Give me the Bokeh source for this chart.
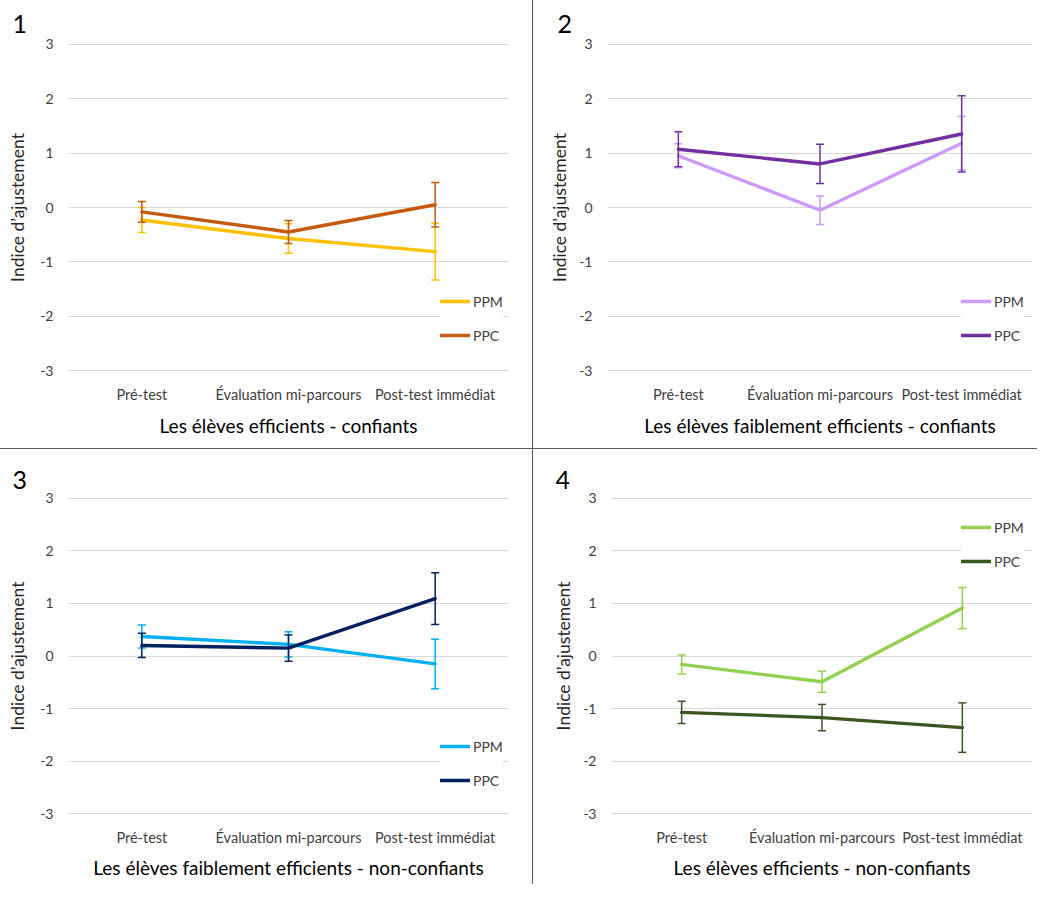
from bokeh.plotting import figure
from bokeh.models import (ColumnDataSource, Whisker, TeeHead, Legend, LegendItem,
                          Range1d, FactorRange, Title, Div, FixedTicker)
from bokeh.layouts import row, column
from bokeh.embed import file_html
from bokeh.resources import INLINE

# ---------------- data ----------------
categories = ["Pré-test", "Évaluation mi-parcours", "Post-test immédiat"]
series_names = ["PPM", "PPC"]
y_ticks = [-3, -2, -1, 0, 1, 2, 3]
y_tick_labels = ["-3", "-2", "-1", "0", "1", "2", "3"]
y_title = "Indice d’ajustement"

panel_numbers = ["1", "2", "3", "4"]
captions = [
    "Les élèves efficients - confiants",
    "Les élèves faiblement efficients - confiants",
    "Les élèves faiblement efficients - non-confiants",
    "Les élèves efficients - non-confiants",
]

p1_ppm = [-0.23, -0.57, -0.81]
p1_ppm_err = [0.23, 0.27, 0.52]
p1_ppc = [-0.08, -0.45, 0.05]
p1_ppc_err = [0.19, 0.21, 0.41]

p2_ppm = [0.95, -0.05, 1.18]
p2_ppm_err = [0.22, 0.26, 0.49]
p2_ppc = [1.07, 0.80, 1.35]
p2_ppc_err = [0.32, 0.36, 0.70]

p3_ppm = [0.37, 0.22, -0.15]
p3_ppm_err = [0.22, 0.24, 0.47]
p3_ppc = [0.20, 0.15, 1.09]
p3_ppc_err = [0.23, 0.25, 0.49]

p4_ppm = [-0.16, -0.49, 0.91]
p4_ppm_err = [0.18, 0.20, 0.39]
p4_ppc = [-1.07, -1.17, -1.36]
p4_ppc_err = [0.21, 0.25, 0.47]

colors = [
    ("#FFC000", "#C55A11"),
    ("#CC99FF", "#7030A0"),
    ("#00B0F0", "#002060"),
    ("#92D050", "#385723"),
]

FONT = "Lato"
TOP_H = 448
BOT_H = 435
LEFT_W = 532
RIGHT_W = 504

# layout specs per panel
specs = [
    dict(w=LEFT_W, h=TOP_H, left=68, right=24, top=42, frame_h=330, ylab_stand=9,
         num_off=-56, num_stand=20, cap_off=-24, cap_stand=13, leg=(372, 27)),
    dict(w=RIGHT_W, h=TOP_H, left=74, right=5, top=42, frame_h=330, ylab_stand=6,
         num_off=-50, num_stand=20, cap_off=-15, cap_stand=13, leg=(354, 27)),
    dict(w=LEFT_W, h=BOT_H, left=68, right=24, top=47, frame_h=322, ylab_stand=9,
         num_off=-56, num_stand=15, cap_off=-24, cap_stand=11, leg=(372, 25)),
    dict(w=RIGHT_W, h=BOT_H, left=78, right=5, top=47, frame_h=322, ylab_stand=6,
         num_off=-56, num_stand=15, cap_off=-17, cap_stand=11, leg=(350, 244)),
]

data = [
    (p1_ppm, p1_ppm_err, p1_ppc, p1_ppc_err),
    (p2_ppm, p2_ppm_err, p2_ppc, p2_ppc_err),
    (p3_ppm, p3_ppm_err, p3_ppc, p3_ppc_err),
    (p4_ppm, p4_ppm_err, p4_ppc, p4_ppc_err),
]


def make_panel(i):
    s = specs[i]
    ppm, ppm_e, ppc, ppc_e = data[i]
    c_ppm, c_ppc = colors[i]
    bottom = s["h"] - s["top"] - s["frame_h"]
    p = figure(width=s["w"], height=s["h"], x_range=FactorRange(*categories),
               y_range=Range1d(-3.03, 3.03), output_backend="svg",
               toolbar_location=None, min_border_left=s["left"],
               min_border_right=s["right"], min_border_top=s["top"],
               min_border_bottom=bottom)
    p.outline_line_color = None
    p.background_fill_color = "white"
    p.border_fill_color = "white"
    p.xgrid.grid_line_color = None
    p.ygrid.grid_line_color = "#D9D9D9"
    p.ygrid.grid_line_width = 1
    p.x_range.range_padding = 0
    p.x_range.factor_padding = 0

    # axes
    p.yaxis.ticker = FixedTicker(ticks=y_ticks)
    p.yaxis.major_label_overrides = {t: lab for t, lab in zip(y_ticks, y_tick_labels)}
    for ax in (p.xaxis[0], p.yaxis[0]):
        ax.axis_line_color = None
        ax.major_tick_line_color = None
        ax.minor_tick_line_color = None
        ax.major_label_text_font = FONT
        ax.major_label_text_color = "#404040"
    p.yaxis.major_label_text_font_size = "14px"
    p.xaxis.major_label_text_font_size = "14.5px"
    p.yaxis.major_label_standoff = 9
    p.xaxis.major_label_standoff = 7
    p.yaxis.axis_label = y_title
    p.yaxis.axis_label_text_font = FONT
    p.yaxis.axis_label_text_font_size = "17.5px"
    p.yaxis.axis_label_text_font_style = "normal"
    p.yaxis.axis_label_text_color = "#262626"
    p.yaxis.axis_label_standoff = s["ylab_stand"]

    # panel number
    p.title.text = panel_numbers[i]
    p.title.align = "left"
    p.title.offset = s["num_off"]
    p.title.text_font = FONT
    p.title.text_font_size = "25px"
    p.title.text_font_style = "normal"
    p.title.text_color = "#000000"
    p.title.standoff = s["num_stand"]

    # caption below
    cap = Title(text=captions[i], align="center", offset=s["cap_off"],
                text_font=FONT, text_font_size="19px", text_font_style="normal",
                text_color="#000000", standoff=s["cap_stand"])
    p.add_layout(cap, "below")

    legend_items = []
    for name, vals, errs, col in ((series_names[0], ppm, ppm_e, c_ppm),
                                  (series_names[1], ppc, ppc_e, c_ppc)):
        src = ColumnDataSource(dict(
            x=categories, y=vals,
            upper=[v + e for v, e in zip(vals, errs)],
            lower=[v - e for v, e in zip(vals, errs)]))
        r = p.line("x", "y", source=src, line_color=col, line_width=3.4,
                   line_join="round", line_cap="round")
        w = Whisker(source=src, base="x", upper="upper", lower="lower",
                    dimension="height", line_color=col, line_width=1.5,
                    upper_head=TeeHead(size=8, line_color=col, line_width=1.5),
                    lower_head=TeeHead(size=8, line_color=col, line_width=1.5),
                    level="glyph")
        p.renderers.append(w)
        legend_items.append(LegendItem(label=name, renderers=[r]))

    leg = Legend(items=legend_items, location=s["leg"], orientation="vertical",
                 glyph_width=30, glyph_height=20, label_height=20,
                 label_standoff=3, spacing=14, padding=3, margin=0,
                 label_text_font=FONT, label_text_font_size="14px",
                 label_text_color="#404040", background_fill_color="white",
                 background_fill_alpha=1.0, border_line_color=None)
    p.add_layout(leg, "center")
    return p


panels = [make_panel(i) for i in range(4)]

SEP = "#595959"
vsep_top = Div(text="", width=1, height=TOP_H, margin=0,
               styles={"background-color": SEP})
vsep_bot = Div(text="", width=1, height=BOT_H, margin=0,
               styles={"background-color": SEP})
hsep = Div(text="", width=LEFT_W + 1 + RIGHT_W, height=1, margin=0,
           styles={"background-color": SEP})

layout = column(row(panels[0], vsep_top, panels[1], spacing=0),
                hsep,
                row(panels[2], vsep_bot, panels[3], spacing=0),
                spacing=0)

with open("out.html", "w") as f:
    f.write(file_html(layout, INLINE))
